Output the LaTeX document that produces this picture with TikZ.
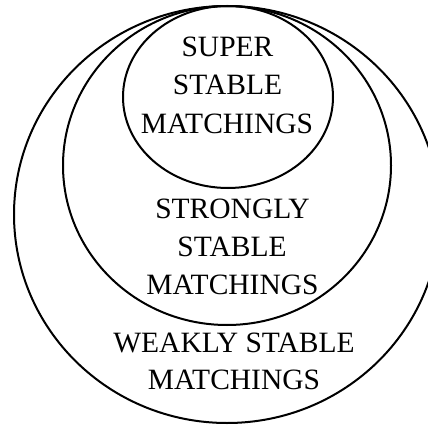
\documentclass[tikz,border=0pt]{standalone}
\usepackage{fontspec}
\setmainfont{Liberation Serif}
\begin{document}
\begin{tikzpicture}[x=1pt,y=-1pt,
  setline/.style={line width=2pt},
  lbl/.style={anchor=base,inner sep=0pt,font=\fontsize{29.5}{38}\selectfont}]
\useasboundingbox (0,0) rectangle (428,425);
\clip (0,0) rectangle (428,425);
\draw[setline] (227,214.5) ellipse [x radius=213pt, y radius=208.5pt];
\draw[setline] (227,165.5) ellipse [x radius=164pt, y radius=159.5pt];
\draw[setline] (228,97) ellipse [x radius=105pt, y radius=91pt];
\node[lbl] (s1) at (227.5,57) {SUPER};
\node[lbl] (s2) at (227.5,95) {STABLE};
\node[lbl] (s3) at (227,133) {MATCHINGS};
\node[lbl] (m1) at (232.5,218) {STRONGLY};
\node[lbl] (m2) at (232,256) {STABLE};
\node[lbl] (m3) at (232.5,294) {MATCHINGS};
\node[lbl] (w1) at (234,352) {WEAKLY STABLE};
\node[lbl] (w2) at (234,389) {MATCHINGS};
\end{tikzpicture}
\end{document}
